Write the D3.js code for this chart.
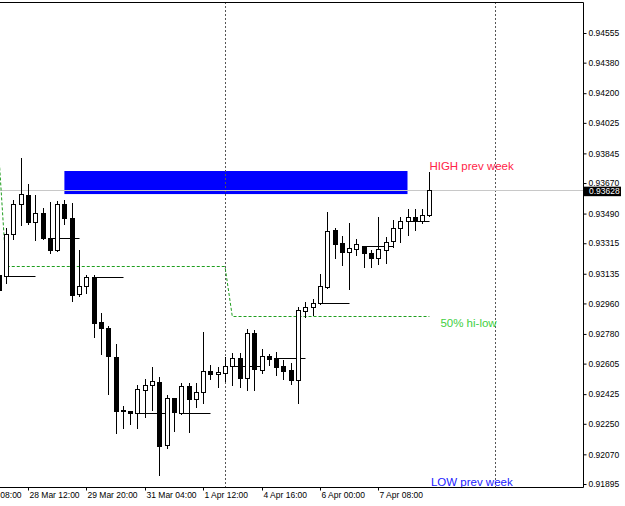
<!DOCTYPE html>
<html lang="en">
<head>
<meta charset="UTF-8">
<title>H4 chart</title>
<script src="https://d3js.org/d3.v7.min.js"></script>
<style>
  body { margin: 0; background: #fff; overflow: hidden; }
  svg { display: block; font-family: "Liberation Sans", Arial, sans-serif; }
  .axis text { font-size: 8.5px; fill: #000; }
  .axis line { stroke: #000; }
  .axis .domain { display: none; }
</style>
</head>
<body>
<svg id="chart" width="625" height="506"></svg>
<script>
// candles, one per H4 bar, oldest first
const opens = [
  0.93128, 0.93122, 0.93370, 0.93546, 0.93600, 0.93440, 0.93493, 0.93346, 0.93275, 0.93546,
  0.93464, 0.93016, 0.93063, 0.93116, 0.92851, 0.92815, 0.92644, 0.92326, 0.92326, 0.92314,
  0.92449, 0.92479, 0.92497, 0.92125, 0.92402, 0.92314, 0.92473, 0.92396, 0.92438, 0.92562,
  0.92544, 0.92550, 0.92591, 0.92638, 0.92520, 0.92786, 0.92567, 0.92650, 0.92638, 0.92591,
  0.92567, 0.92508, 0.92915, 0.92939, 0.92963, 0.93057, 0.93393, 0.93316, 0.93263, 0.93281,
  0.93299, 0.93257, 0.93228, 0.93275, 0.93328, 0.93405, 0.93446, 0.93470, 0.93446, 0.93482
];
const highs = [
  0.93169, 0.93405, 0.93570, 0.93818, 0.93664, 0.93600, 0.93523, 0.93558, 0.93564, 0.93570,
  0.93552, 0.93275, 0.93128, 0.93128, 0.92904, 0.92827, 0.92721, 0.92355, 0.92326, 0.92479,
  0.92514, 0.92585, 0.92526, 0.92420, 0.92402, 0.92491, 0.92491, 0.92491, 0.92792, 0.92597,
  0.92585, 0.92644, 0.92668, 0.92668, 0.92809, 0.92803, 0.92691, 0.92662, 0.92674, 0.92626,
  0.92609, 0.92939, 0.92968, 0.92986, 0.93134, 0.93499, 0.93405, 0.93358, 0.93434, 0.93340,
  0.93299, 0.93275, 0.93470, 0.93352, 0.93452, 0.93470, 0.93517, 0.93517, 0.93517, 0.93735
];
const lows = [
  0.93022, 0.93081, 0.93340, 0.93423, 0.93429, 0.93334, 0.93340, 0.93257, 0.93269, 0.93429,
  0.92974, 0.93004, 0.93022, 0.92762, 0.92662, 0.92426, 0.92196, 0.92225, 0.92249, 0.92225,
  0.92290, 0.92331, 0.91948, 0.92107, 0.92208, 0.92308, 0.92202, 0.92349, 0.92373, 0.92514,
  0.92467, 0.92503, 0.92479, 0.92467, 0.92449, 0.92449, 0.92550, 0.92597, 0.92538, 0.92514,
  0.92485, 0.92373, 0.92880, 0.92892, 0.92957, 0.93050, 0.93228, 0.93187, 0.93045, 0.93246,
  0.93175, 0.93175, 0.93193, 0.93198, 0.93293, 0.93322, 0.93364, 0.93393, 0.93434, 0.93476
];
const closes = [
  0.93039, 0.93370, 0.93546, 0.93605, 0.93440, 0.93493, 0.93346, 0.93275, 0.93546, 0.93464,
  0.93010, 0.93063, 0.93116, 0.92845, 0.92815, 0.92650, 0.92326, 0.92331, 0.92314, 0.92455,
  0.92479, 0.92503, 0.92119, 0.92402, 0.92320, 0.92473, 0.92396, 0.92438, 0.92562, 0.92544,
  0.92556, 0.92591, 0.92638, 0.92520, 0.92786, 0.92573, 0.92650, 0.92632, 0.92585, 0.92562,
  0.92508, 0.92921, 0.92939, 0.92963, 0.93063, 0.93387, 0.93311, 0.93263, 0.93287, 0.93311,
  0.93257, 0.93228, 0.93281, 0.93322, 0.93405, 0.93446, 0.93470, 0.93446, 0.93482, 0.93628
];

// daily open segments (bar index where the day starts)
const dayStarts = [1, 7, 13, 19, 25, 32, 38, 44, 50, 56];
const dayOpens = [0.93122, 0.93346, 0.93116, 0.92314, 0.92314, 0.92591, 0.92638, 0.92963, 0.93299, 0.93446];

// 50% hi-low of previous week, break points
const midIdx = [0, 1, 31, 32, 59];
const midVals = [0.93853, 0.93180, 0.93180, 0.92883, 0.92883];

const prevWeekHigh = 0.93818;
const prevWeekLow = 0.91948;
const lastPrice = 0.93628;

// blue zone
const zoneIdx = [9, 56];
const zonePrices = [0.93741, 0.93605];

// week separators
const separators = [31, 68];

const yTicks = [0.94555, 0.94380, 0.94200, 0.94025, 0.93845, 0.93670, 0.93490, 0.93315,
                0.93135, 0.92960, 0.92780, 0.92605, 0.92425, 0.92250, 0.92070, 0.91895];
const xTickIdx = [-4, 4, 12, 20, 28, 36, 44, 52];
const xTickLabels = ["25 Mar 08:00", "28 Mar 12:00", "29 Mar 20:00", "31 Mar 04:00",
                     "1 Apr 12:00", "4 Apr 16:00", "6 Apr 00:00", "7 Apr 08:00"];

const svg = d3.select("#chart");
const plotRight = 583, plotTop = 2, plotBottom = 487;

const x = d3.scaleLinear().domain([0, 59]).range([-1.3, 429.4]);
const y = d3.scaleLinear().domain([0.91895, 0.94555]).range([484, 33]);
const px = i => Math.round(x(i)) + 0.5;
const py = v => Math.round(y(v)) + 0.5;

svg.append("defs").append("clipPath").attr("id", "plot")
  .append("rect").attr("x", 0).attr("y", plotTop).attr("width", plotRight).attr("height", plotBottom - plotTop);

const plot = svg.append("g").attr("clip-path", "url(#plot)");

// zone
plot.append("rect")
  .attr("x", x(zoneIdx[0]))
  .attr("y", y(zonePrices[0]))
  .attr("width", x(zoneIdx[1]) - x(zoneIdx[0]))
  .attr("height", y(zonePrices[1]) - y(zonePrices[0]))
  .attr("fill", "#0000ff");

// separators
plot.selectAll(".sep").data(separators).enter().append("line")
  .attr("x1", d => px(d)).attr("x2", d => px(d))
  .attr("y1", plotTop).attr("y2", plotBottom)
  .attr("stroke", "#555").attr("stroke-dasharray", "2,2");

// last price line
plot.append("line")
  .attr("x1", 0).attr("x2", plotRight)
  .attr("y1", py(lastPrice)).attr("y2", py(lastPrice))
  .attr("stroke", "#c8c8c8");

// 50% line
plot.append("path")
  .datum(midIdx.map((d, i) => [d, midVals[i]]))
  .attr("d", d3.line().x(d => x(d[0])).y(d => py(d[1])))
  .attr("fill", "none")
  .attr("stroke", "#1e9e1e")
  .attr("stroke-dasharray", "3,2");

// daily open lines
plot.selectAll(".dayopen").data(dayStarts).enter().append("line")
  .attr("x1", d => px(d))
  .attr("x2", d => px(Math.min(d + 4, opens.length - 1)))
  .attr("y1", (d, i) => py(dayOpens[i]))
  .attr("y2", (d, i) => py(dayOpens[i]))
  .attr("stroke", "#000");

// candles
const candles = plot.selectAll(".candle").data(opens.map((o, i) => i)).enter().append("g");

candles.append("line")
  .attr("x1", i => px(i)).attr("x2", i => px(i))
  .attr("y1", i => Math.round(y(highs[i])))
  .attr("y2", i => Math.round(y(lows[i])) + 1)
  .attr("stroke", "#000");

candles.append("rect")
  .attr("x", i => Math.round(x(i)) - 1.5)
  .attr("y", i => Math.round(y(Math.max(opens[i], closes[i]))) + 0.5)
  .attr("width", 4)
  .attr("height", i => Math.max(0, Math.round(y(Math.min(opens[i], closes[i]))) - Math.round(y(Math.max(opens[i], closes[i])))))
  .attr("fill", i => closes[i] >= opens[i] ? "#fff" : "#000")
  .attr("stroke", "#000");

// level labels
const labelX = x(opens.length - 1);
plot.append("text")
  .attr("x", labelX).attr("y", y(prevWeekHigh) + 12)
  .attr("font-size", "11.5px").attr("fill", "#ff2448")
  .text("HIGH prev week");
plot.append("text")
  .attr("x", labelX + 11).attr("y", y(midVals[midVals.length - 1]) + 11)
  .attr("font-size", "11.5px").attr("fill", "#3fcf3f")
  .text("50% hi-low");
plot.append("text")
  .attr("x", labelX + 1.5).attr("y", y(prevWeekLow) + 11)
  .attr("font-size", "11.5px").attr("fill", "#2020ff")
  .text("LOW prev week");

// frame
svg.append("path")
  .attr("d", `M0,${plotTop + 0.5}H${plotRight + 0.5}V${plotBottom + 0.5}H0`)
  .attr("fill", "none").attr("stroke", "#000");

// axes
svg.append("g").attr("class", "axis")
  .attr("transform", `translate(${plotRight + 0.5},0)`)
  .call(d3.axisRight(y).tickValues(yTicks).tickSize(3).tickPadding(2).tickFormat(d3.format(".5f")));

const xAxis = svg.append("g").attr("class", "axis")
  .attr("transform", `translate(0,${plotBottom + 0.5})`)
  .call(d3.axisBottom(x).tickValues(xTickIdx).tickSize(3).tickPadding(1)
    .tickFormat((d, i) => xTickLabels[i]));
xAxis.selectAll(".tick").attr("transform", d => `translate(${px(d)},0)`);
xAxis.selectAll("text").attr("text-anchor", "start").attr("x", 1);

// last price tag
const tag = svg.append("g").attr("transform", `translate(${plotRight + 1},${y(lastPrice)})`);
tag.append("rect").attr("x", 0).attr("y", -3.5).attr("width", 37).attr("height", 9.5).attr("fill", "#000");
tag.append("text").attr("x", 5).attr("y", 1).attr("dy", "0.35em")
  .attr("font-size", "8.5px").attr("fill", "#fff")
  .text(d3.format(".5f")(lastPrice));
</script>
</body>
</html>
